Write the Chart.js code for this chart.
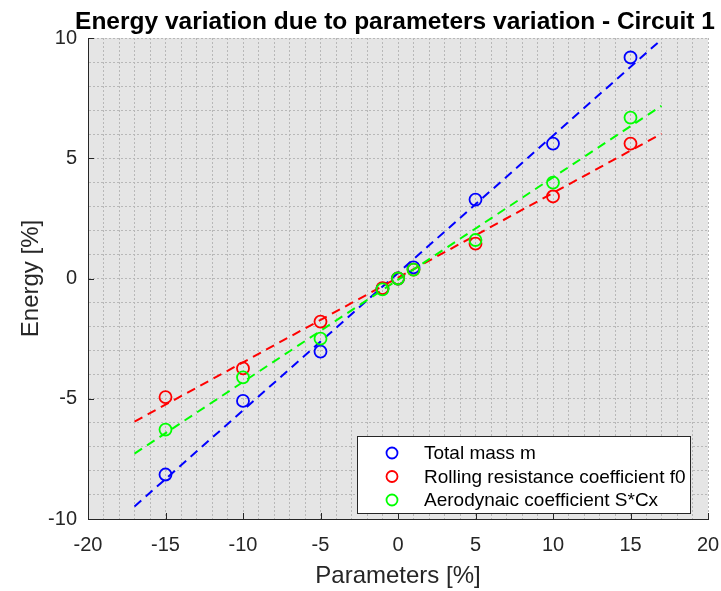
<!DOCTYPE html>
<html>
<head>
<meta charset="utf-8">
<script src="https://cdn.jsdelivr.net/npm/chart.js@4.4.1/dist/chart.umd.min.js"></script>
<style>
  html, body { margin: 0; padding: 0; background: #fff; }
  #wrap { width: 721px; height: 591px; }
</style>
</head>
<body>
<div id="wrap"><canvas id="myChart" width="721" height="591"></canvas></div>
<script>
// parameter variation [%] and resulting energy variation [%]
const params = [-15, -10, -5, -1, 0, 1, 5, 10, 15];
const massEnergy = [-8.15, -5.09, -3.04, -0.42, 0, 0.46, 3.28, 5.61, 9.19];
const rollEnergy = [-4.93, -3.74, -1.79, -0.40, 0, 0.37, 1.45, 3.41, 5.61];
const aeroEnergy = [-6.28, -4.11, -2.50, -0.45, 0, 0.37, 1.60, 3.99, 6.69];

// linear fits, evaluated at both ends
const fitX = [-17, 17];
const massFit = [-9.48, 9.94];
const rollFit = [-5.95, 6.02];
const aeroFit = [-7.28, 7.18];

const seriesNames = ['Total mass m', 'Rolling resistance coefficient f0', 'Aerodynaic coefficient S*Cx'];
const colors = ['#0000ff', '#ff0000', '#00ff00'];

const xTicks = [-20, -15, -10, -5, 0, 5, 10, 15, 20];
const yTicks = [-10, -5, 0, 5, 10];

const titleText = 'Energy variation due to parameters variation - Circuit 1';
const FONT = '"Liberation Sans", Arial, Helvetica, sans-serif';
const AXIS = '#262626';

function pts(xs, ys){
	let out = [];
	for(let i = 0; i < xs.length; i++){
		out.push({x: xs[i], y: ys[i]});
	}
	return out;
}

function pointSet(i, ys, ord){
	return {
		label: seriesNames[i],
		data: pts(params, ys),
		showLine: false,
		pointStyle: 'circle',
		pointRadius: 6,
		pointHoverRadius: 6,
		pointBorderWidth: 1.8,
		pointBorderColor: colors[i],
		pointBackgroundColor: 'rgba(0,0,0,0)',
		order: ord
	};
}

function fitSet(i, ys, ord){
	return {
		label: seriesNames[i] + ' fit',
		data: pts(fitX, ys),
		showLine: true,
		borderColor: colors[i],
		borderWidth: 2,
		borderDash: [9, 6],
		pointRadius: 0,
		fill: false,
		order: ord
	};
}

// grey axes background
const plotBg = {
	id: 'plotBg',
	beforeDraw(chart){
		const a = chart.chartArea;
		const ctx = chart.ctx;
		ctx.save();
		ctx.fillStyle = '#e5e5e5';
		ctx.fillRect(a.left, a.top, a.right - a.left, a.bottom - a.top);
		ctx.restore();
	}
};

// title, inward tick marks and boxed legend
const decor = {
	id: 'decor',
	afterDraw(chart){
		const ctx = chart.ctx;
		const a = chart.chartArea;
		const xs = chart.scales.x;
		const ys = chart.scales.y;

		ctx.save();
		ctx.fillStyle = '#000';
		ctx.font = 'bold 24.5px ' + FONT;
		ctx.textAlign = 'center';
		ctx.textBaseline = 'alphabetic';
		ctx.fillText(titleText, 395, 29);

		ctx.strokeStyle = AXIS;
		ctx.lineWidth = 1;
		ctx.beginPath();
		xTicks.forEach(function(v){
			let px = Math.round(xs.getPixelForValue(v)) + 0.5;
			ctx.moveTo(px, a.bottom);
			ctx.lineTo(px, a.bottom - 6);
		});
		yTicks.forEach(function(v){
			let py = Math.round(ys.getPixelForValue(v)) + 0.5;
			ctx.moveTo(a.left, py);
			ctx.lineTo(a.left + 6, py);
		});
		ctx.stroke();

		// legend box
		const w = 333, h = 77;
		const bx = a.right - 18 - w;
		const by = a.bottom - 6 - h;
		ctx.fillStyle = '#fff';
		ctx.fillRect(bx, by, w, h);
		ctx.strokeStyle = AXIS;
		ctx.lineWidth = 1;
		ctx.strokeRect(Math.round(bx) + 0.5, Math.round(by) + 0.5, w, h);

		ctx.font = '19px ' + FONT;
		ctx.textAlign = 'left';
		ctx.textBaseline = 'middle';
		for(let i = 0; i < seriesNames.length; i++){
			let cy = by + 17 + i * 23.5;
			ctx.beginPath();
			ctx.strokeStyle = colors[i];
			ctx.lineWidth = 1.8;
			ctx.arc(bx + 35, cy, 5.5, 0, Math.PI * 2);
			ctx.stroke();
			ctx.fillStyle = '#000';
			ctx.fillText(seriesNames[i], bx + 67, cy + 1);
		}
		ctx.restore();
	}
};

const data = {
	datasets: [
		pointSet(0, massEnergy, 2),
		pointSet(1, rollEnergy, 1),
		pointSet(2, aeroEnergy, 0),
		fitSet(0, massFit, 5),
		fitSet(1, rollFit, 4),
		fitSet(2, aeroFit, 3)
	]
};

const tickFont = {family: FONT, size: 20};
const labelFont = {family: FONT, size: 24};

const config = {
	type: 'scatter',
	data: data,
	plugins: [plotBg, decor],
	options: {
		responsive: false,
		animation: false,
		events: [],
		layout: {padding: {top: 38, right: 0, left: 0, bottom: 0}},
		plugins: {
			legend: {display: false},
			title: {display: false},
			tooltip: {enabled: false}
		},
		scales: {
			x: {
				type: 'linear',
				min: -20,
				max: 20,
				afterFit: function(scale){
					scale.height = 72;
					scale.paddingRight = 13;
					scale.paddingLeft = 0;
				},
				ticks: {
					stepSize: 1,
					autoSkip: false,
					maxRotation: 0,
					padding: 14,
					color: AXIS,
					font: tickFont,
					callback: function(v){ return v % 5 === 0 ? v : ''; }
				},
				grid: {color: '#b8b8b8', lineWidth: 1, drawTicks: false},
				border: {display: true, color: AXIS, width: 1, dash: [2, 2]},
				title: {display: true, text: 'Parameters [%]', color: AXIS, font: labelFont, padding: {top: 0, bottom: 0}}
			},
			y: {
				type: 'linear',
				min: -10,
				max: 10,
				afterFit: function(scale){
					scale.width = 88;
					scale.paddingTop = 0;
					scale.paddingBottom = 0;
				},
				ticks: {
					stepSize: 1,
					autoSkip: false,
					padding: 11,
					color: AXIS,
					font: tickFont,
					callback: function(v){ return v % 5 === 0 ? v : ''; }
				},
				grid: {color: '#b8b8b8', lineWidth: 1, drawTicks: false},
				border: {display: true, color: AXIS, width: 1, dash: [2, 2]},
				title: {display: true, text: 'Energy [%]', color: AXIS, font: labelFont, padding: {top: 17, bottom: 0}}
			}
		}
	}
};

var myChart = new Chart(document.getElementById('myChart'), config);
</script>
</body>
</html>
